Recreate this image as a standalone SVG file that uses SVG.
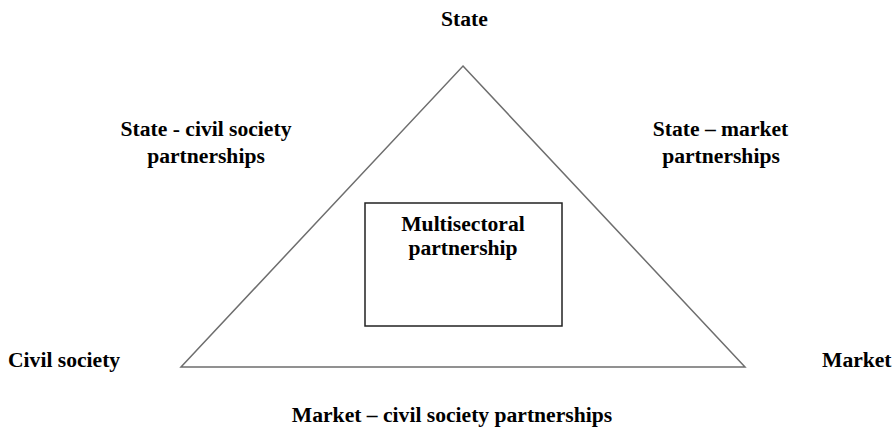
<svg xmlns="http://www.w3.org/2000/svg" width="894" height="429" viewBox="0 0 894 429">
<style>
text{font-family:"Liberation Serif","Times New Roman",serif;font-weight:bold;font-size:21.6px;fill:#000}
.m{text-anchor:middle}
.tri{fill:none;stroke:#6e6e6e;stroke-width:1.5;stroke-linejoin:miter}
.box{fill:#fff;stroke:#222;stroke-width:1.5}
</style>
<rect width="894" height="429" fill="#fff"/>
<g id="connectors">
<polygon class="tri" points="463,66 745,367 181,367"/>
</g>
<g id="state"><text class="m" x="464.5" y="26">State</text></g>
<g id="civil-society"><text x="8" y="367">Civil society</text></g>
<g id="market"><text x="822" y="367">Market</text></g>
<g id="state-civil"><text class="m" x="206" y="136">State - civil society</text><text class="m" x="206" y="163">partnerships</text></g>
<g id="state-market"><text class="m" x="720.5" y="136">State – market</text><text class="m" x="721" y="163">partnerships</text></g>
<g id="market-civil"><text class="m" x="452" y="422">Market – civil society partnerships</text></g>
<g id="multisectoral">
<rect class="box" x="365" y="203" width="197" height="123"/>
<text class="m" x="463" y="231">Multisectoral</text>
<text class="m" x="463" y="255">partnership</text>
</g>
</svg>
